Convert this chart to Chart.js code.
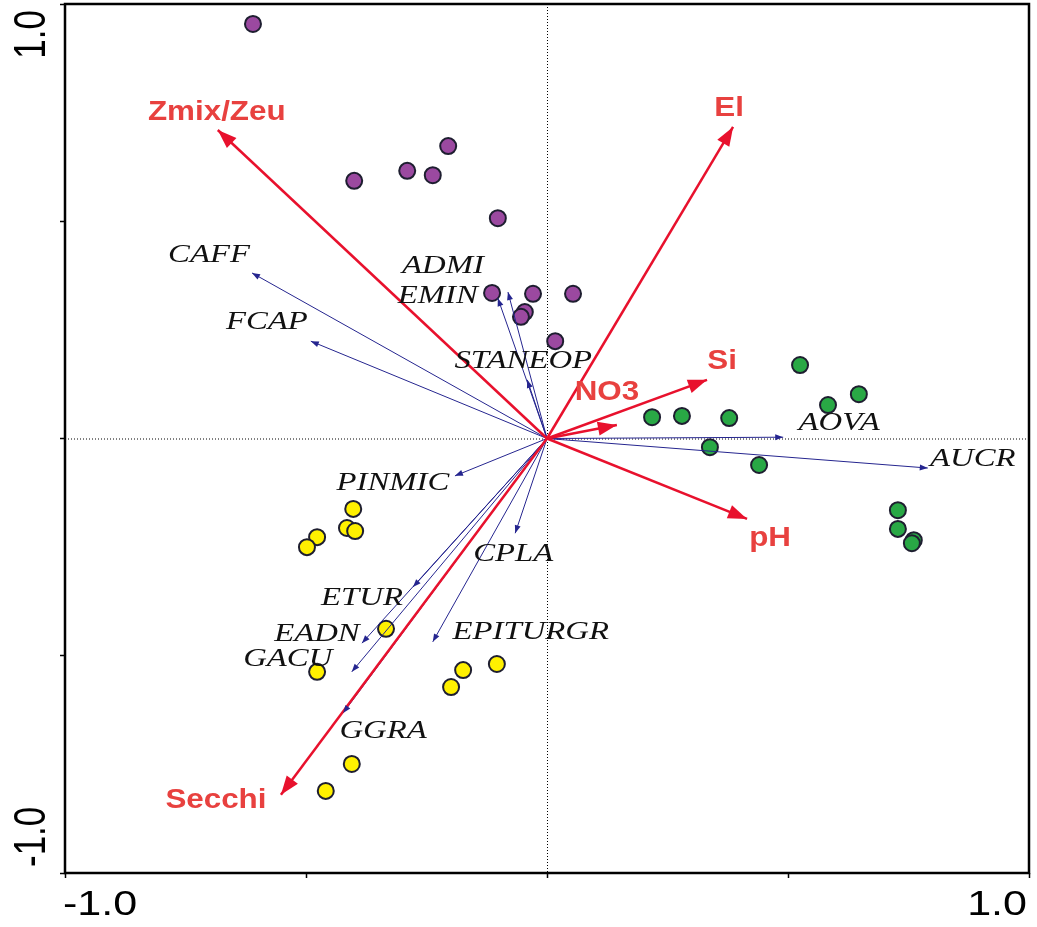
<!DOCTYPE html>
<html>
<head>
<meta charset="utf-8">
<title>RDA biplot</title>
<script src="https://cdn.jsdelivr.net/npm/chart.js@4/dist/chart.umd.min.js"></script>
<style>
  html, body { margin: 0; padding: 0; background: #ffffff; }
  #wrap { width: 1037px; height: 927px; position: relative; }
</style>
</head>
<body>
<div id="wrap"><canvas id="chart"></canvas></div>
<script>
// Sample scores, grouped by cluster
const purpleX = [-0.610, -0.400, -0.290, -0.237, -0.205, -0.102, -0.114, -0.029, 0.054, -0.046, -0.054, 0.017];
const purpleY = [0.954, 0.593, 0.616, 0.606, 0.673, 0.507, 0.335, 0.333, 0.333, 0.291, 0.280, 0.224];
const greenX = [0.218, 0.280, 0.378, 0.525, 0.583, 0.647, 0.338, 0.440, 0.728, 0.728, 0.761, 0.757];
const greenY = [0.049, 0.052, 0.047, 0.169, 0.077, 0.102, -0.020, -0.061, -0.165, -0.208, -0.234, -0.241];
const yellowX = [-0.402, -0.415, -0.398, -0.477, -0.498, -0.334, -0.477, -0.104, -0.174, -0.199, -0.405, -0.459];
const yellowY = [-0.162, -0.206, -0.213, -0.227, -0.250, -0.438, -0.537, -0.519, -0.533, -0.572, -0.749, -0.811];

// Environmental variable vectors
const envNames = ['Zmix/Zeu', 'El', 'Si', 'NO3', 'pH', 'Secchi'];
const envX = [-0.683, 0.386, 0.332, 0.145, 0.415, -0.552];
const envY = [0.710, 0.717, 0.135, 0.031, -0.185, -0.820];

// Species vectors
const speciesNames = ['CAFF', 'FCAP', 'ADMI', 'EMIN', 'STANEOP', 'AOVA', 'AUCR', 'PINMIC', 'CPLA', 'ETUR', 'EADN', 'GACU', 'EPITURGR', 'GGRA'];
const speciesX = [-0.612, -0.490, -0.081, -0.102, -0.041, 0.490, 0.790, -0.191, -0.066, -0.278, -0.384, -0.405, -0.237, -0.423];
const speciesY = [0.381, 0.224, 0.337, 0.323, 0.135, 0.003, -0.068, -0.086, -0.218, -0.342, -0.471, -0.537, -0.468, -0.632];

// Axis tick labels
const tickValues = [-1, 1];
const tickLabels = ['-1.0', '1.0'];

// Label placement relative to arrow tips (pixels)
const envLabelOffset = {
  'Zmix/Zeu': [-1, -18], 'El': [-4, -19], 'Si': [15, -19],
  'NO3': [-10, -33], 'pH': [23, 19], 'Secchi': [-65, 5]
};
const speciesLabelOffset = {
  'CAFF': [-43, -18], 'FCAP': [-44, -19], 'ADMI': [-65, -26], 'EMIN': [-60, -2],
  'STANEOP': [-4, -19], 'AOVA': [56, -14], 'AUCR': [45, -9], 'PINMIC': [-62, 7],
  'CPLA': [-2, 21], 'ETUR': [-51, 11], 'EADN': [-45, -9], 'GACU': [-64, -13],
  'EPITURGR': [98, -10], 'GGRA': [40, 18]
};

const ENV_COLOR = '#e8112d';
const ENV_TEXT = '#e8413f';
const SPECIES_COLOR = '#25258f';

const toPoints = (xs, ys) => xs.map((x, i) => ({ x: x, y: ys[i] }));

function vectorDataset(x, y, color, width, kind, name) {
  return {
    type: 'line',
    label: name,
    kind: kind,
    data: [{ x: 0, y: 0 }, { x: x, y: y }],
    borderColor: color,
    borderWidth: width,
    pointRadius: 0,
    pointHoverRadius: 0,
    fill: false,
    tension: 0
  };
}

const datasets = [];
envNames.forEach((n, i) => datasets.push(vectorDataset(envX[i], envY[i], ENV_COLOR, 2.5, 'env', n)));
speciesNames.forEach((n, i) => datasets.push(vectorDataset(speciesX[i], speciesY[i], SPECIES_COLOR, 1, 'species', n)));

function sampleDataset(name, xs, ys, fill) {
  return {
    type: 'scatter',
    label: name,
    kind: 'sample',
    data: toPoints(xs, ys),
    backgroundColor: fill,
    borderColor: '#1e1e30',
    borderWidth: 2,
    pointRadius: 8,
    pointHoverRadius: 8
  };
}
datasets.push(sampleDataset('group 1', purpleX, purpleY, '#9b49a0'));
datasets.push(sampleDataset('group 2', greenX, greenY, '#29a845'));
datasets.push(sampleDataset('group 3', yellowX, yellowY, '#fff000'));

function drawStretchedText(ctx, text, x, y, sx, align) {
  ctx.save();
  ctx.translate(x, y);
  ctx.scale(sx, 1);
  ctx.textAlign = align;
  ctx.fillText(text, 0, 0);
  ctx.restore();
}

function arrowHead(ctx, x0, y0, x1, y1, len, half, color) {
  const dx = x1 - x0, dy = y1 - y0;
  const d = Math.hypot(dx, dy) || 1;
  const ux = dx / d, uy = dy / d;
  const bx = x1 - ux * len, by = y1 - uy * len;
  ctx.beginPath();
  ctx.moveTo(x1, y1);
  ctx.lineTo(bx - uy * half, by + ux * half);
  ctx.lineTo(bx + uy * half, by - ux * half);
  ctx.closePath();
  ctx.fillStyle = color;
  ctx.fill();
}

const biplotDecor = {
  id: 'biplotDecor',
  beforeDatasetsDraw(chart) {
    const { ctx, chartArea: a, scales: { x, y } } = chart;
    const x0 = x.getPixelForValue(0), y0 = y.getPixelForValue(0);
    ctx.save();
    ctx.strokeStyle = '#000';
    ctx.lineWidth = 1;
    ctx.setLineDash([1, 2]);
    ctx.beginPath();
    ctx.moveTo(x0 + 0.5, a.top);
    ctx.lineTo(x0 + 0.5, a.bottom);
    ctx.moveTo(a.left, y0 + 0.5);
    ctx.lineTo(a.right, y0 + 0.5);
    ctx.stroke();
    ctx.restore();
  },
  afterDatasetsDraw(chart) {
    const { ctx, chartArea: a, scales: { x, y } } = chart;
    const ox = x.getPixelForValue(0), oy = y.getPixelForValue(0);
    ctx.save();

    // arrow heads
    envNames.forEach((n, i) => {
      arrowHead(ctx, ox, oy, x.getPixelForValue(envX[i]), y.getPixelForValue(envY[i]), 19, 7, ENV_COLOR);
    });
    speciesNames.forEach((n, i) => {
      arrowHead(ctx, ox, oy, x.getPixelForValue(speciesX[i]), y.getPixelForValue(speciesY[i]), 8, 3, SPECIES_COLOR);
    });

    // species labels
    ctx.font = 'italic 26px "Liberation Serif", "DejaVu Serif", serif';
    ctx.fillStyle = '#111111';
    ctx.textBaseline = 'middle';
    speciesNames.forEach((n, i) => {
      const off = speciesLabelOffset[n];
      drawStretchedText(ctx, n, x.getPixelForValue(speciesX[i]) + off[0], y.getPixelForValue(speciesY[i]) + off[1], 1.26, 'center');
    });

    // environmental labels
    ctx.font = 'bold 28px "Liberation Sans", Arial, sans-serif';
    ctx.fillStyle = ENV_TEXT;
    envNames.forEach((n, i) => {
      const off = envLabelOffset[n];
      drawStretchedText(ctx, n, x.getPixelForValue(envX[i]) + off[0], y.getPixelForValue(envY[i]) + off[1], 1.12, 'center');
    });

    // frame
    ctx.strokeStyle = '#000';
    ctx.lineWidth = 2.5;
    ctx.strokeRect(a.left, a.top, a.right - a.left, a.bottom - a.top);

    // tick labels
    ctx.fillStyle = '#000';
    ctx.font = '35px "Liberation Sans", Arial, sans-serif';
    ctx.textBaseline = 'alphabetic';
    tickValues.forEach((v, i) => {
      const px = x.getPixelForValue(v);
      const align = v < 0 ? 'left' : 'right';
      drawStretchedText(ctx, tickLabels[i], px - 2, a.bottom + 42, 1.23, align);
    });
    tickValues.forEach((v, i) => {
      const py = y.getPixelForValue(v);
      ctx.save();
      ctx.translate(a.left - 20, v < 0 ? py - 6 : py + 6);
      ctx.rotate(-Math.PI / 2);
      ctx.scale(1, 1.28);
      ctx.textAlign = v < 0 ? 'left' : 'right';
      ctx.fillText(tickLabels[i], 0, 0);
      ctx.restore();
    });
    ctx.restore();
  }
};

const axisCommon = {
  type: 'linear',
  min: -1,
  max: 1,
  ticks: { stepSize: 0.5, display: false },
  grid: {
    drawOnChartArea: false,
    drawTicks: true,
    tickLength: 5,
    tickColor: '#000',
    tickWidth: 1.5
  },
  border: { display: false }
};

new Chart(document.getElementById('chart'), {
  type: 'scatter',
  data: { datasets: datasets },
  options: {
    responsive: true,
    maintainAspectRatio: false,
    animation: false,
    layout: { autoPadding: false, padding: { left: 0, right: 8, top: 4, bottom: 0 } },
    plugins: {
      legend: { display: false },
      tooltip: { enabled: false }
    },
    scales: {
      x: Object.assign({}, axisCommon, {
        position: 'bottom',
        afterFit: (s) => { s.height = 54; }
      }),
      y: Object.assign({}, axisCommon, {
        position: 'left',
        afterFit: (s) => { s.width = 65; }
      })
    }
  },
  plugins: [biplotDecor]
});
</script>
</body>
</html>
